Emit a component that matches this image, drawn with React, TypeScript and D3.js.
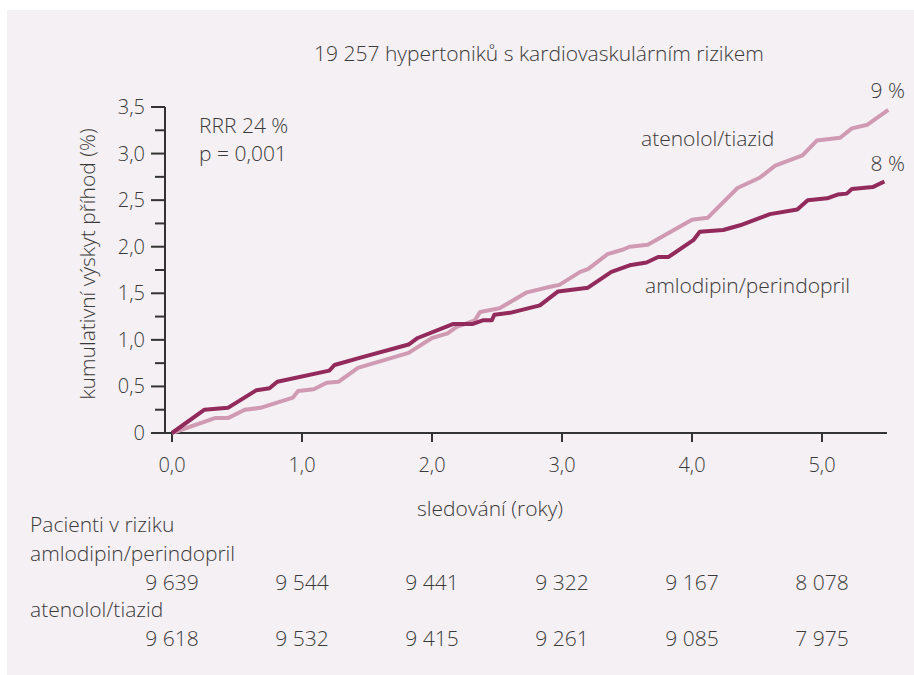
import React from 'react';
import * as d3 from 'd3';

const amloT = [0, 0.25, 0.43, 0.65, 0.75, 0.81, 1.21, 1.25, 1.45, 1.82, 1.89, 2.16, 2.31, 2.39, 2.46, 2.48, 2.6, 2.83, 2.97, 3.2, 3.38, 3.52, 3.65, 3.74, 3.82, 4.01, 4.06, 4.24, 4.37, 4.6, 4.81, 4.89, 5.04, 5.12, 5.19, 5.23, 5.39, 5.48];
const amloV = [0, 0.25, 0.27, 0.46, 0.48, 0.55, 0.67, 0.73, 0.81, 0.95, 1.02, 1.17, 1.17, 1.21, 1.21, 1.27, 1.29, 1.37, 1.52, 1.56, 1.73, 1.8, 1.83, 1.89, 1.89, 2.07, 2.16, 2.18, 2.23, 2.35, 2.4, 2.5, 2.52, 2.56, 2.57, 2.62, 2.64, 2.7];

const atenT = [0, 0.33, 0.43, 0.56, 0.68, 0.93, 0.97, 1.09, 1.19, 1.28, 1.43, 1.82, 2.0, 2.12, 2.19, 2.33, 2.37, 2.52, 2.73, 2.91, 2.98, 3.14, 3.2, 3.35, 3.47, 3.52, 3.66, 4.0, 4.12, 4.35, 4.52, 4.64, 4.85, 4.96, 5.14, 5.23, 5.35, 5.51];
const atenV = [0, 0.16, 0.16, 0.25, 0.27, 0.38, 0.45, 0.47, 0.54, 0.55, 0.7, 0.86, 1.02, 1.07, 1.14, 1.21, 1.3, 1.34, 1.51, 1.57, 1.59, 1.73, 1.76, 1.92, 1.97, 2.0, 2.02, 2.29, 2.31, 2.63, 2.74, 2.87, 2.98, 3.14, 3.17, 3.27, 3.31, 3.47];

const xTicks = [0, 1, 2, 3, 4, 5];
const xTickLabels = ['0,0', '1,0', '2,0', '3,0', '4,0', '5,0'];
const yTicks = [0, 0.5, 1, 1.5, 2, 2.5, 3, 3.5];
const yTickLabels = ['0', '0,5', '1,0', '1,5', '2,0', '2,5', '3,0', '3,5'];
const yMinorTicks = [0.25, 0.75, 1.25, 1.75, 2.25, 2.75, 3.25];

const riskAmlo = ['9 639', '9 544', '9 441', '9 322', '9 167', '8 078'];
const riskAten = ['9 618', '9 532', '9 415', '9 261', '9 085', '7 975'];

const DARK = '#922a5c';
const LIGHT = '#d09bb2';
const TEXT = '#3a3a3a';
const FONT = "'Open Sans', 'Noto Sans', sans-serif";
const FS = 21;

export default function App() {
  const x = d3.scaleLinear().domain([0, 5]).range([172, 822]);
  const y = d3.scaleLinear().domain([0, 3.5]).range([433, 107]);
  const line = d3.line<[number, number]>().x(d => x(d[0])).y(d => y(d[1]));
  const amlo = amloT.map((t, i) => [t, amloV[i]] as [number, number]);
  const aten = atenT.map((t, i) => [t, atenV[i]] as [number, number]);
  const axisX0 = 165;

  return (
    <svg width={914} height={675} style={{ position: 'absolute', left: 0, top: 0 }}
      fontFamily={FONT} fontWeight={300} fill={TEXT}>
      <rect x={0} y={0} width={914} height={675} fill="#ffffff" />
      <rect x={7} y={10} width={907} height={665} fill="#f5f0f3" />

      <text x={539} y={61} textAnchor="middle" fontSize={FS}>19 257 hypertoniků s kardiovaskulárním rizikem</text>

      {/* y axis */}
      <line x1={axisX0} x2={axisX0} y1={y(3.5)} y2={y(0) + 1} stroke="#333" strokeWidth={2} />
      {yTicks.map((v, i) => (
        <g key={'y' + v}>
          <line x1={axisX0 - 14} x2={axisX0} y1={y(v)} y2={y(v)} stroke="#333" strokeWidth={2} />
          <text x={145} y={y(v) + 7} textAnchor="end" fontSize={20}>{yTickLabels[i]}</text>
        </g>
      ))}
      {yMinorTicks.map(v => (
        <line key={'ym' + v} x1={axisX0 - 10} x2={axisX0} y1={y(v)} y2={y(v)} stroke="#333" strokeWidth={2} />
      ))}
      <text transform={`translate(95,264) rotate(-90)`} textAnchor="middle" fontSize={FS}>kumulativní výskyt příhod (%)</text>

      {/* x axis */}
      <line x1={axisX0 - 1} x2={x(5.5)} y1={y(0)} y2={y(0)} stroke="#333" strokeWidth={2} />
      {xTicks.map((t, i) => (
        <g key={'x' + t}>
          <line x1={x(t)} x2={x(t)} y1={y(0)} y2={y(0) + 9} stroke="#333" strokeWidth={2} />
          <text x={x(t)} y={472} textAnchor="middle" fontSize={20}>{xTickLabels[i]}</text>
        </g>
      ))}
      <text x={490} y={516} textAnchor="middle" fontSize={FS}>sledování (roky)</text>

      {/* series */}
      <path d={line(aten) || ''} fill="none" stroke={LIGHT} strokeWidth={4} strokeLinejoin="round" />
      <path d={line(amlo) || ''} fill="none" stroke={DARK} strokeWidth={4} strokeLinejoin="round" />

      <text x={199} y={133} fontSize={FS}>RRR 24 %</text>
      <text x={199} y={161} fontSize={FS}>p = 0,001</text>
      <text x={641} y={146} fontSize={FS}>atenolol/tiazid</text>
      <text x={645} y={293} fontSize={FS}>amlodipin/perindopril</text>
      <text x={905} y={98} textAnchor="end" fontSize={FS}>9 %</text>
      <text x={905} y={171} textAnchor="end" fontSize={FS}>8 %</text>

      {/* patients at risk */}
      <text x={30} y={532} fontSize={FS}>Pacienti v riziku</text>
      <text x={30} y={561} fontSize={FS}>amlodipin/perindopril</text>
      {riskAmlo.map((s, i) => (
        <text key={'ra' + i} x={x(xTicks[i])} y={590} textAnchor="middle" fontSize={FS}>{s}</text>
      ))}
      <text x={30} y={617} fontSize={FS}>atenolol/tiazid</text>
      {riskAten.map((s, i) => (
        <text key={'rt' + i} x={x(xTicks[i])} y={646} textAnchor="middle" fontSize={FS}>{s}</text>
      ))}
    </svg>
  );
}
